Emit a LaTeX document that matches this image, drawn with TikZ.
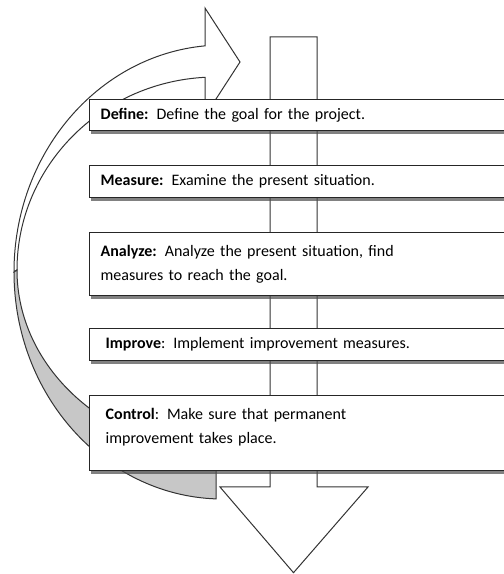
\documentclass[tikz,border=0pt]{standalone}
\usepackage{fontspec}
\setmainfont{Carlito}
\usetikzlibrary{shadows}

\begin{document}
\begin{tikzpicture}[x=1pt, y=1pt,
  outline/.style={draw=black!80, line width=1pt, line join=miter},
  phase/.style={draw=black!85, line width=1.4pt, fill=white, anchor=north west,
    text width=400pt, align=left, inner xsep=11pt, inner ysep=0pt,
    font=\fontsize{16pt}{24pt}\selectfont,
    drop shadow={shadow xshift=1.5pt, shadow yshift=-3.5pt, fill=black!70, opacity=.7}}]
\useasboundingbox (0,0) rectangle (504,574);
\clip (0,0) rectangle (504,574);

% feedback arrow: white front face up to the head, shaded back below
\draw[outline, fill=white] (205,528.2) -- (205,566) -- (240,512) -- (205,458) -- (205,496.7)
  arc[start angle=93.17, end angle=180, x radius=199, y radius=193] -- (14,302)
  arc[start angle=180, end angle=94.94, x radius=209, y radius=227] -- cycle;
\draw[outline, fill=black!22] (17,304)
  arc[start angle=180, end angle=266.23, x radius=213, y radius=184] -- (216,75.1)
  arc[start angle=268.08, end angle=180, x radius=209, y radius=227] -- cycle;

% main flow arrow
\draw[outline, fill=white] (270,537) -- (317,537) -- (317,87) -- (368,87) -- (293.5,1.3)
  -- (220,87) -- (270,87) -- cycle;

% DMAIC steps
\node[phase, minimum height=31pt] (define) at (89,475) {\textbf{Define:} Define the goal for the project.};
\node[phase, minimum height=32pt] (measure) at (89,409) {\textbf{Measure:} Examine the present situation.};
\node[phase, minimum height=63pt] (analyze) at (89,342) {\textbf{Analyze:} Analyze the present situation, find\\ measures to reach the goal.};
\node[phase, minimum height=32pt, inner xsep=16pt] (improve) at (89,246) {\textbf{Improve}: Implement improvement measures.};
\node[phase, minimum height=75pt, inner xsep=16pt] (control) at (89,179) {\textbf{Control}: Make sure that permanent\\ improvement takes place.\rule[-14pt]{0pt}{0pt}};
\end{tikzpicture}
\end{document}
